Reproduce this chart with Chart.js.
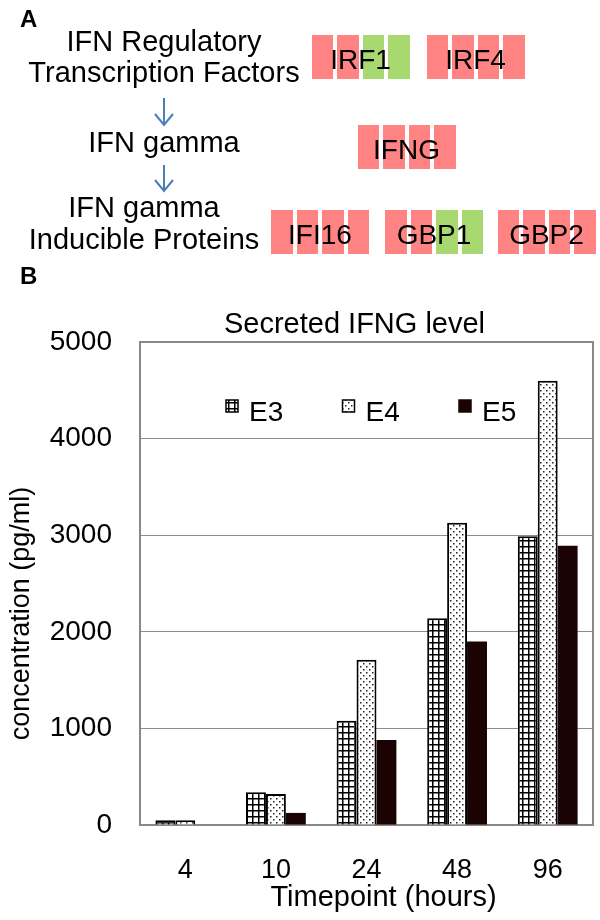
<!DOCTYPE html>
<html><head><meta charset="utf-8">
<script src="https://cdn.jsdelivr.net/npm/chart.js@4/dist/chart.umd.min.js"></script>
<style>
html,body{margin:0;padding:0;background:#fff;}
#wrap{position:relative;width:600px;height:920px;overflow:hidden;font-family:"Liberation Sans",Arial,Helvetica,sans-serif;}
canvas{position:absolute;left:0;top:0;}
.t{position:absolute;white-space:nowrap;color:#000;}
.seg{position:absolute;}
svg{position:absolute;left:0;top:0;}
</style></head>
<body><div id="wrap">
<canvas id="c" width="600" height="920"></canvas>
<div id="panelA"></div>
</div>
<script>
// ---------- data ----------
const categories = ['4', '10', '24', '48', '96'];
const seriesNames = ['E3', 'E4', 'E5'];
const e3Values = [50, 340, 1080, 2140, 2990];
const e4Values = [50, 320, 1710, 3130, 4600];
const e5Values = [0, 125, 880, 1900, 2890];
const yTickValues = [0, 1000, 2000, 3000, 4000, 5000];
const chartTitle = 'Secreted IFNG level';
const xAxisTitle = 'Timepoint (hours)';
const yAxisTitle = 'concentration (pg/ml)';
// panel A diagram
const panelLetters = ['A', 'B'];
const pathwayLabels = [['IFN Regulatory', 'Transcription Factors'], ['IFN gamma'], ['IFN gamma', 'Inducible Proteins']];
const geneRows = [['IRF1', 'IRF4'], ['IFNG'], ['IFI16', 'GBP1', 'GBP2']];
const geneSegments = {
  IRF1: ['up', 'up', 'down', 'down'],
  IRF4: ['up', 'up', 'up', 'up'],
  IFNG: ['up', 'up', 'up', 'up'],
  IFI16: ['up', 'up', 'up', 'up'],
  GBP1: ['up', 'up', 'down', 'down'],
  GBP2: ['up', 'up', 'up', 'up']
};

// ---------- styles / layout ----------
const FONT = '"Liberation Sans", Arial, Helvetica, sans-serif';
const segColor = {up: '#ff8383', down: '#a8d870'};
const arrowColor = '#4a7ebb';

const wrap = document.getElementById('panelA');
function placeText(txt, x, baseline, size, bold, centered) {
  const d = document.createElement('div');
  d.className = 't';
  d.textContent = txt;
  d.style.fontSize = size + 'px';
  d.style.lineHeight = size + 'px';
  d.style.fontWeight = bold ? 'bold' : 'normal';
  d.style.top = (baseline - 0.8465 * size) + 'px';
  d.style.left = x + 'px';
  if (centered) d.style.transform = 'translateX(-50%)';
  wrap.appendChild(d);
}
// letters
placeText(panelLetters[0], 20, 27, 24, true, false);
placeText(panelLetters[1], 20, 284, 24, true, false);
// pathway labels
const labelLayout = [
  {cx: 164, baselines: [52, 83]},
  {cx: 164, baselines: [153]},
  {cx: 144, baselines: [218, 250]}
];
pathwayLabels.forEach((lines, i) => {
  lines.forEach((ln, j) => placeText(ln, labelLayout[i].cx, labelLayout[i].baselines[j], 29, false, true));
});
// arrows
const svgNS = 'http://www.w3.org/2000/svg';
const svg = document.createElementNS(svgNS, 'svg');
svg.setAttribute('width', 600); svg.setAttribute('height', 260);
[[98, 125], [165, 191]].forEach(([y0, y1]) => {
  const l = document.createElementNS(svgNS, 'line');
  l.setAttribute('x1', 164); l.setAttribute('x2', 164);
  l.setAttribute('y1', y0); l.setAttribute('y2', y1);
  l.setAttribute('stroke', arrowColor); l.setAttribute('stroke-width', 2);
  svg.appendChild(l);
  const p = document.createElementNS(svgNS, 'polyline');
  p.setAttribute('points', `155,${y1 - 11} 164,${y1} 173,${y1 - 11}`);
  p.setAttribute('fill', 'none');
  p.setAttribute('stroke', arrowColor); p.setAttribute('stroke-width', 2);
  svg.appendChild(p);
});
wrap.appendChild(svg);
// gene boxes
const rowLayout = [
  {top: 34.5, lefts: [311.5, 426.5]},
  {top: 124.5, lefts: [357.5]},
  {top: 209.5, lefts: [271, 385, 497.5]}
];
const SEG_W = 21.5, SEG_PITCH = 25.5, SEG_H = 44.5;
geneRows.forEach((genes, r) => {
  genes.forEach((g, k) => {
    const left = rowLayout[r].lefts[k], top = rowLayout[r].top;
    geneSegments[g].forEach((s, m) => {
      const b = document.createElement('div');
      b.className = 'seg';
      b.style.left = (left + m * SEG_PITCH) + 'px';
      b.style.top = top + 'px';
      b.style.width = SEG_W + 'px';
      b.style.height = SEG_H + 'px';
      b.style.background = segColor[s];
      wrap.appendChild(b);
    });
    const groupW = 3 * SEG_PITCH + SEG_W;
    placeText(g, left + groupW / 2, top + 35, 28, false, true);
  });
});

// ---------- chart ----------
const canvas = document.getElementById('c');
const ctx = canvas.getContext('2d');
function makePattern(kind) {
  const c = document.createElement('canvas');
  const g = c.getContext('2d');
  c.width = 6; c.height = 6;
  g.fillStyle = '#fff'; g.fillRect(0, 0, 6, 6);
  if (kind === 'grid') {
    g.fillStyle = '#000'; g.fillRect(0, 0, 6, 1.5); g.fillRect(0, 0, 1.5, 6);
  } else {
    g.fillStyle = '#222'; g.fillRect(0, 0, 1.5, 1.5); g.fillRect(3, 3, 1.5, 1.5);
  }
  return ctx.createPattern(c, 'repeat');
}
const fills = [makePattern('grid'), makePattern('dots'), '#1c0303'];
const borders = ['#000', '#000', '#1c0303'];
const seriesValues = [e3Values, e4Values, e5Values];

const framePlugin = {
  id: 'frame',
  beforeDatasetsDraw(chart) {
    const a = chart.chartArea, c = chart.ctx;
    c.save();
    c.strokeStyle = '#888'; c.lineWidth = 2;
    c.strokeRect(a.left, a.top, a.right - a.left, a.bottom - a.top);
    c.restore();
  },
  afterDraw(chart) {
    const a = chart.chartArea, c = chart.ctx;
    c.save();
    c.fillStyle = '#000';
    // chart title
    c.font = '29px ' + FONT;
    c.textAlign = 'center'; c.textBaseline = 'alphabetic';
    c.fillText(chartTitle, (a.left + a.right) / 2 - 12, a.top - 9);
    // x title
    c.fillText(xAxisTitle, (a.left + a.right) / 2 + 17, 906);
    // y title
    c.translate(22, (a.top + a.bottom) / 2 + 30);
    c.rotate(-Math.PI / 2);
    c.font = '27px ' + FONT;
    c.textBaseline = 'middle';
    c.fillText(yAxisTitle, 0, 0);
    c.restore();
    // legend
    c.save();
    c.font = '28px ' + FONT;
    c.textAlign = 'left'; c.textBaseline = 'alphabetic';
    const startX = a.left + 86, pitch = 116.5, boxS = 12, boxTop = a.top + 58;
    chart.data.datasets.forEach((ds, i) => {
      const x = startX + i * pitch;
      c.fillStyle = ds.backgroundColor;
      c.fillRect(x, boxTop, boxS, boxS);
      c.strokeStyle = i < 2 ? '#000' : ds.backgroundColor; c.lineWidth = 1.5;
      c.strokeRect(x, boxTop, boxS, boxS);
      c.fillStyle = '#000';
      c.fillText(ds.label, x + boxS + 11, a.top + 79);
    });
    c.restore();
  }
};

new Chart(ctx, {
  type: 'bar',
  data: {
    labels: categories,
    datasets: seriesNames.map((n, i) => ({
      label: n, data: seriesValues[i],
      backgroundColor: fills[i], borderColor: borders[i], borderWidth: i < 2 ? 2 : 0
    }))
  },
  options: {
    responsive: false, animation: false,
    layout: {padding: {left: 0, right: 7, top: 342, bottom: 0}},
    datasets: {bar: {categoryPercentage: 0.66, barPercentage: 1}},
    plugins: {legend: {display: false}, tooltip: {enabled: false}, title: {display: false}},
    scales: {
      x: {
        grid: {display: false}, border: {display: false},
        ticks: {color: '#000', font: {family: FONT, size: 27}, padding: 21},
        afterFit(s) { s.height = 95; }
      },
      y: {
        min: 0, max: 5000,
        afterBuildTicks(s) { s.ticks = yTickValues.map(v => ({value: v})); },
        grid: {color: '#8c8c8c', lineWidth: 1, drawTicks: false},
        border: {display: false},
        ticks: {color: '#000', font: {family: FONT, size: 28}, padding: 28, callback: v => String(v)},
        afterFit(s) { s.width = 140; }
      }
    }
  },
  plugins: [framePlugin]
});
</script>
</body></html>
